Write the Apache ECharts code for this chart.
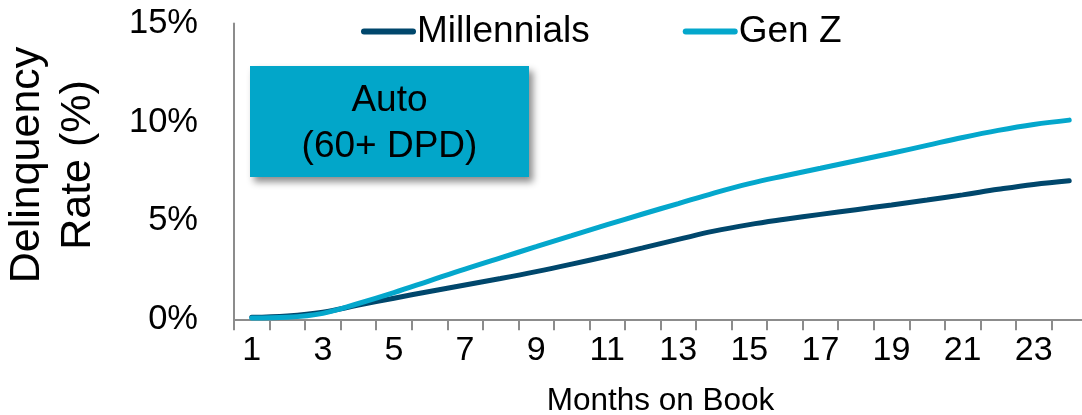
<!DOCTYPE html>
<html>
<head>
<meta charset="utf-8">
<script src="https://cdn.jsdelivr.net/npm/echarts@6/dist/echarts.min.js"></script>
<style>
  html, body { margin: 0; padding: 0; background: #ffffff; }
  #chart { width: 1082px; height: 415px; }
</style>
</head>
<body>
<div id="chart"></div>
<script>
// Months on book (x categories)
const months = ['1','2','3','4','5','6','7','8','9','10','11','12',
                '13','14','15','16','17','18','19','20','21','22','23','24'];

// 60+ DPD auto delinquency rate, percent
const millennials = [0.10, 0.17, 0.36, 0.72, 1.07, 1.41, 1.74, 2.07, 2.42, 2.80, 3.20, 3.62,
                     4.05, 4.47, 4.80, 5.07, 5.32, 5.56, 5.80, 6.05, 6.31, 6.59, 6.84, 7.03];
const genZ        = [0.06, 0.10, 0.30, 0.80, 1.35, 1.95, 2.55, 3.12, 3.68, 4.24, 4.80, 5.34,
                     5.87, 6.40, 6.88, 7.28, 7.66, 8.04, 8.42, 8.82, 9.22, 9.58, 9.88, 10.10];

const seriesNames = ['Millennials', 'Gen Z'];
const yTitle = 'Delinquency\nRate (%)';
const xTitle = 'Months on Book';
const boxText = 'Auto\n(60+ DPD)';

const FONT = '"Liberation Sans", Arial, Helvetica, sans-serif';
const DARK = '#00476C';
const LIGHT = '#04A7CC';
const AXIS = '#8C8C8C';

const chart = echarts.init(document.getElementById('chart'), null, { renderer: 'canvas' });

chart.setOption({
  backgroundColor: '#ffffff',
  animation: false,
  textStyle: { fontFamily: FONT },
  grid: {
    left: 234, top: 23.5, width: 853, height: 295.8,
    containLabel: false,
    outerBoundsMode: 'none'
  },
  legend: {
    left: 356,
    top: 8,
    itemWidth: 55,
    itemHeight: 6,
    itemGap: 93,
    icon: 'path://M3,0L52,0A3,3,0,0,1,52,6L3,6A3,3,0,0,1,3,0Z',
    textStyle: { fontFamily: FONT, fontSize: 37, color: '#000', padding: [0, 0, 0, -4], lineHeight: 37 },
    data: seriesNames
  },
  xAxis: {
    type: 'category',
    data: months,
    boundaryGap: true,
    name: xTitle,
    nameLocation: 'middle',
    nameGap: 66,
    nameTextStyle: { fontFamily: FONT, fontSize: 31.5, color: '#000' },
    axisLine: { show: true, lineStyle: { color: AXIS, width: 2 } },
    axisTick: { show: true, interval: 0, length: 11, lineStyle: { color: AXIS, width: 2 } },
    axisLabel: { interval: 1, margin: 14, fontFamily: FONT, fontSize: 34, color: '#000' },
    splitLine: { show: false }
  },
  yAxis: {
    type: 'value',
    min: 0,
    max: 15,
    interval: 5,
    axisLine: { show: true, lineStyle: { color: AXIS, width: 2 } },
    axisTick: { show: false },
    axisLabel: { margin: 36, fontFamily: FONT, fontSize: 34.5, color: '#000', formatter: '{value}%' },
    splitLine: { show: false }
  },
  graphic: [
    {
      type: 'text',
      x: 53,
      y: 165,
      rotation: Math.PI / 2,
      style: {
        text: yTitle,
        font: '43px ' + FONT,
        fill: '#000',
        align: 'center',
        verticalAlign: 'middle',
        lineHeight: 51
      }
    },
    {
      type: 'group',
      left: 250,
      top: 66,
      children: [
        {
          type: 'rect',
          shape: { x: 0, y: 0, width: 279, height: 111 },
          style: {
            fill: '#02A6C9',
            shadowBlur: 7,
            shadowOffsetX: 4,
            shadowOffsetY: 5,
            shadowColor: 'rgba(0,0,0,0.45)'
          }
        },
        {
          type: 'text',
          x: 139.5,
          y: 58,
          style: {
            text: boxText,
            font: '37px ' + FONT,
            fill: '#000',
            align: 'center',
            verticalAlign: 'middle',
            lineHeight: 46
          }
        }
      ]
    }
  ],
  series: [
    {
      name: seriesNames[0],
      type: 'line',
      data: millennials,
      smooth: 0.4,
      symbol: 'none',
      lineStyle: { color: DARK, width: 5, cap: 'round' },
      itemStyle: { color: DARK },
      z: 2
    },
    {
      name: seriesNames[1],
      type: 'line',
      data: genZ,
      smooth: 0.4,
      symbol: 'none',
      lineStyle: { color: LIGHT, width: 5, cap: 'round' },
      itemStyle: { color: LIGHT },
      z: 3
    }
  ]
});
</script>
</body>
</html>
